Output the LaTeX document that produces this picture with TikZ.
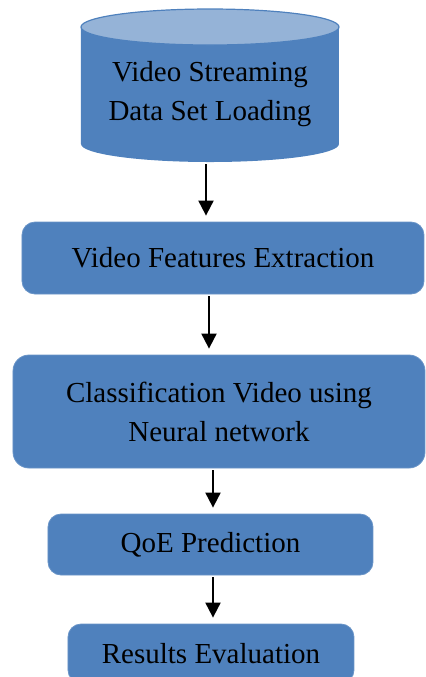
\documentclass[tikz,border=0pt]{standalone}
\usepackage{fontspec}
\setmainfont{Liberation Serif}
\usetikzlibrary{arrows.meta}
\definecolor{boxblue}{HTML}{4F81BD}
\definecolor{topblue}{HTML}{95B3D7}
\begin{document}
\begin{tikzpicture}
  [x=0.5pt,y=-0.5pt,
   every node/.style={font=\fontsize{14.5}{19.5}\selectfont,align=center,inner sep=0pt},
   stepbox/.style={rectangle,rounded corners=6.5pt,fill=boxblue,draw=boxblue!85!white,line width=0.4pt},
   flow/.style={-{Triangle[width=7.5pt,length=7.5pt]},line width=1pt,shorten <=1pt,shorten >=3pt}]
  \useasboundingbox (0,0) rectangle (426,677);

  % data set cylinder
  \fill[boxblue] (81,27) -- (81,144) arc[start angle=180,end angle=360,x radius=64.5pt,y radius=9pt] -- (339,27) -- cycle;
  \filldraw[fill=topblue,draw=boxblue,line width=0.6pt] (210,27) ellipse [x radius=64.5pt,y radius=9pt];
  \node[minimum width=129pt,minimum height=76.5pt] (data) at (210,85.5) {};
  \node (datatext) at (210,94) {Video Streaming\\Data Set Loading};

  \node[stepbox,minimum width=201pt,minimum height=36pt] (feat) at (223,258) {Video Features Extraction};
  \node[stepbox,minimum width=206pt,minimum height=56.5pt,rounded corners=8pt] (class) at (219,411.5) {Classification Video using\\Neural network};
  \node[stepbox,minimum width=162.5pt,minimum height=30.5pt] (qoe) at (210.5,544.5) {QoE Prediction};
  \node[stepbox,minimum width=143pt,minimum height=29.5pt] (res) at (211,653.5) {Results Evaluation};

  \draw[flow] ([xshift=-2pt]data.south) -- ([xshift=-2pt]data.south |- feat.north);
  \draw[flow] ([xshift=-7pt]feat.south) -- ([xshift=-7pt]feat.south |- class.north);
  \draw[flow] ([xshift=-3pt]class.south) -- ([xshift=-3pt]class.south |- qoe.north);
  \draw[flow] ([xshift=1.25pt]qoe.south) -- ([xshift=1.25pt]qoe.south |- res.north);

\end{tikzpicture}
\end{document}
